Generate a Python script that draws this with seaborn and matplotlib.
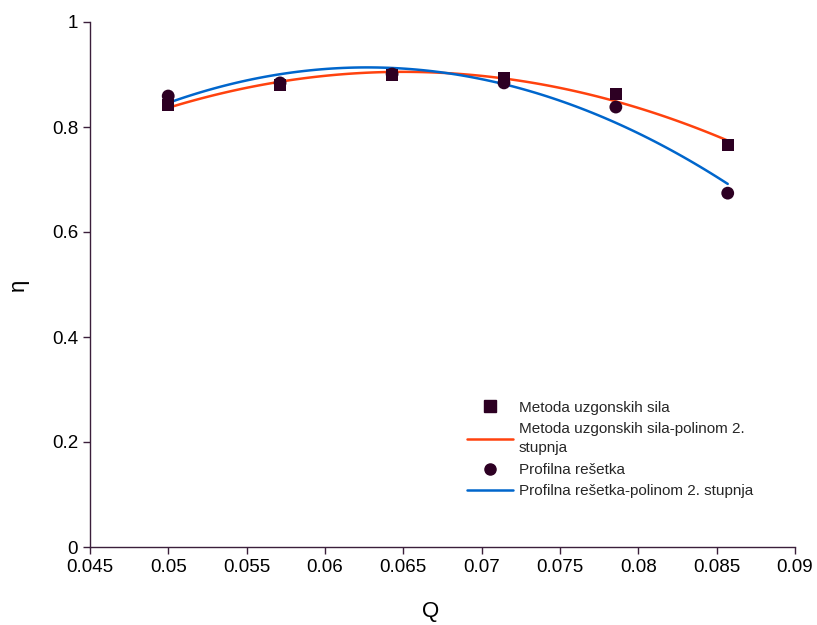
import numpy as np
import pandas as pd
import matplotlib
matplotlib.use("Agg")
import matplotlib.pyplot as plt
import seaborn as sns
from matplotlib.lines import Line2D

Q = [0.05, 0.05714, 0.06429, 0.07143, 0.07857, 0.08571]
eta_metoda = [0.842, 0.880, 0.899, 0.893, 0.863, 0.766]
eta_profil = [0.859, 0.884, 0.901, 0.884, 0.838, 0.674]

label_m = "Metoda uzgonskih sila"
label_mp = "Metoda uzgonskih sila-polinom 2.\nstupnja"
label_p = "Profilna rešetka"
label_pp = "Profilna rešetka-polinom 2. stupnja"

sns.set_theme(style="white")
plt.rcParams['font.family'] = ['Liberation Sans', 'DejaVu Sans']

axcol = "#3b1f3b"
mcol = "#2d0023"
ocol = "#ff420e"
bcol = "#0066cc"

df_m = pd.DataFrame({"Q": Q, "eta": eta_metoda})
df_p = pd.DataFrame({"Q": Q, "eta": eta_profil})

fig = plt.figure(figsize=(8.17, 6.25), dpi=100)
ax = fig.add_axes([0.110, 0.1248, 0.863, 0.840])

sns.regplot(data=df_m, x="Q", y="eta", order=2, ci=None, scatter=False,
            truncate=True, line_kws=dict(color=ocol, lw=1.8), ax=ax)
sns.regplot(data=df_p, x="Q", y="eta", order=2, ci=None, scatter=False,
            truncate=True, line_kws=dict(color=bcol, lw=1.8), ax=ax)
sns.scatterplot(data=df_p, x="Q", y="eta", marker="o", s=85, color=mcol,
                edgecolor="none", ax=ax, zorder=3)
sns.scatterplot(data=df_m, x="Q", y="eta", marker="s", s=80, color=mcol,
                edgecolor="none", ax=ax, zorder=3)

ax.set_xlim(0.045, 0.09)
ax.set_ylim(0, 1)
ax.set_xticks(np.arange(0.045, 0.0901, 0.005))
ax.set_xticklabels(["0.045", "0.05", "0.055", "0.06", "0.065", "0.07",
                    "0.075", "0.08", "0.085", "0.09"])
ax.set_yticks([0, 0.2, 0.4, 0.6, 0.8, 1])
ax.set_yticklabels(["0", "0.2", "0.4", "0.6", "0.8", "1"])
ax.tick_params(axis="both", direction="out", length=5, width=1, color=axcol,
               labelsize=13.5, labelcolor="black", bottom=True, left=True)
for s in ["top", "right"]:
    ax.spines[s].set_visible(False)
for s in ["left", "bottom"]:
    ax.spines[s].set_color(axcol)
    ax.spines[s].set_linewidth(1)

ax.set_xlabel("Q", fontsize=16, color="black")
ax.set_ylabel("η", fontsize=16, color="black")
ax.xaxis.set_label_coords(0.484, -0.103)
ax.yaxis.set_label_coords(-0.087, 0.5)

handles = [
    Line2D([], [], marker="s", color=mcol, ls="none", markersize=8),
    Line2D([], [], color=ocol, lw=1.8),
    Line2D([], [], marker="o", color=mcol, ls="none", markersize=8),
    Line2D([], [], color=bcol, lw=1.8),
]
leg = ax.legend(handles, [label_m, label_mp, label_p, label_pp], frameon=False,
                fontsize=11, loc="upper left", bbox_to_anchor=(0.515, 0.305),
                handlelength=3, labelspacing=0.5, handletextpad=0.4)
for t in leg.get_texts():
    t.set_linespacing(1.45)

fig.savefig("out.png", dpi=100)
